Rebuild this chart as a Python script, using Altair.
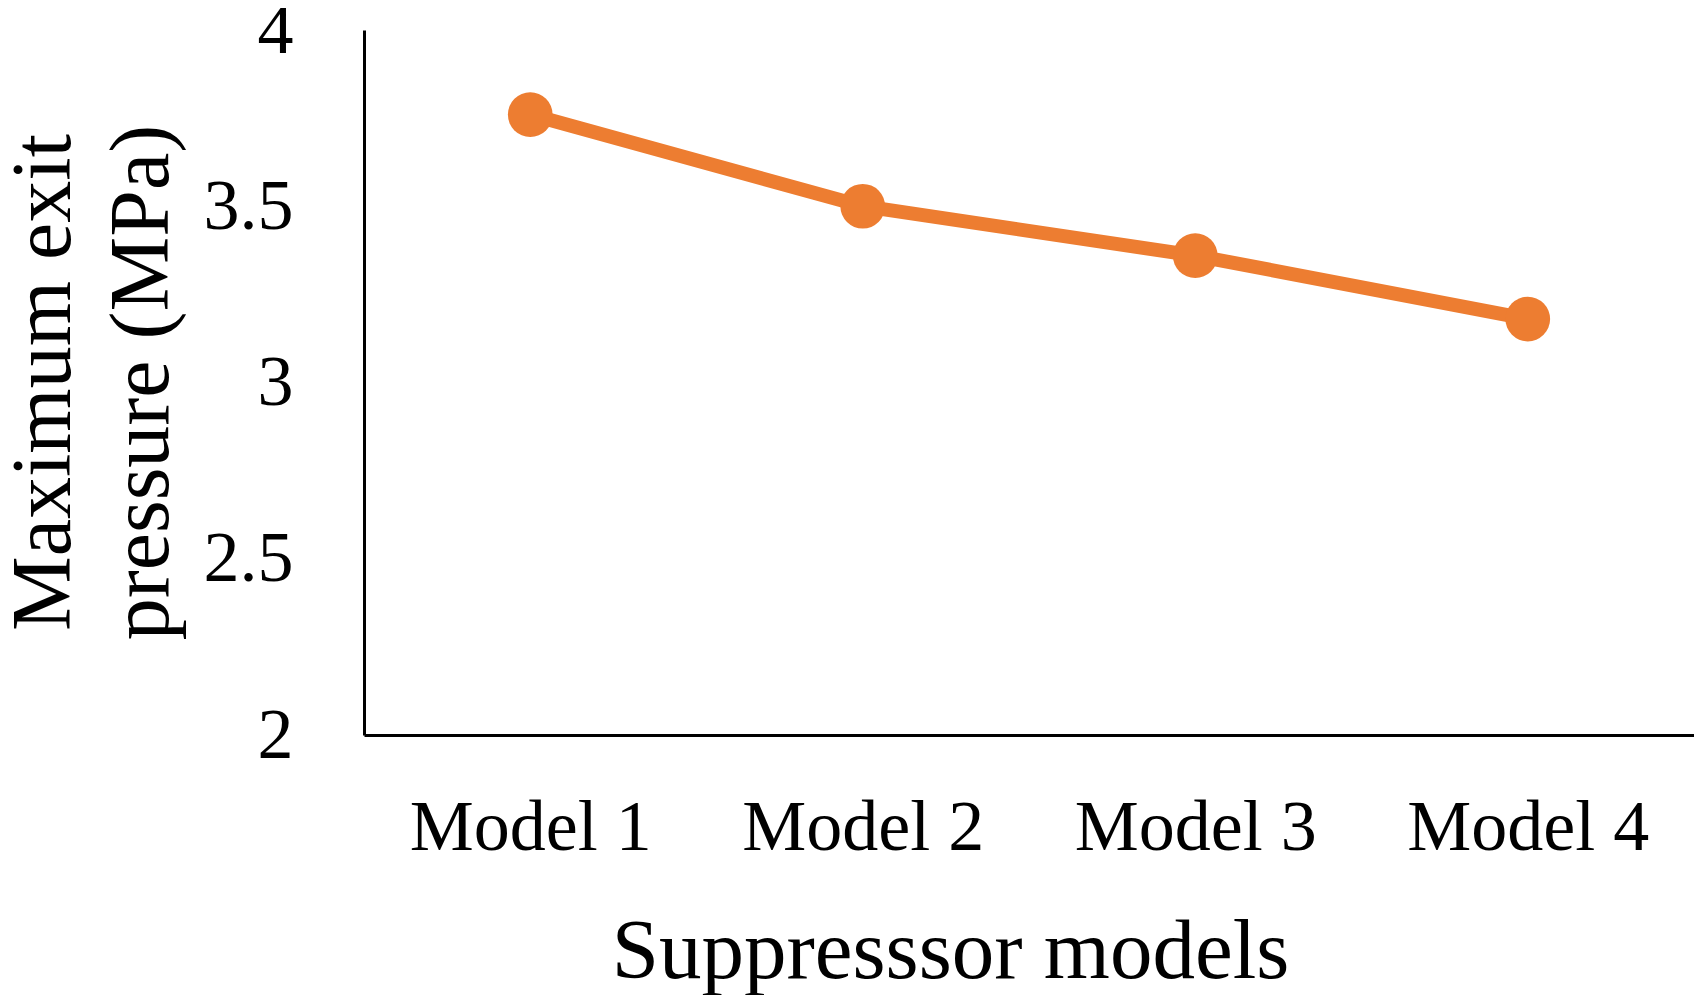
import altair as alt
import pandas as pd

models = ["Model 1", "Model 2", "Model 3", "Model 4"]
pressure = [3.76, 3.50, 3.36, 3.18]

df = pd.DataFrame({"model": models, "pressure": pressure})

FONT = "Liberation Serif"
ORANGE = "#ED7D31"

x = alt.X(
    "model:N",
    sort=models,
    scale=alt.Scale(type="point", padding=0.5),
    axis=alt.Axis(
        title="Suppresssor models",
        labelAngle=0,
        labelFont=FONT,
        labelFontSize=72,
        labelColor="black",
        labelBaseline="alphabetic",
        labelPadding=114,
        labelLimit=0,
        ticks=False,
        tickSize=0,
        domainColor="black",
        domainWidth=3,
        grid=False,
        titleFont=FONT,
        titleFontSize=85,
        titleFontWeight="normal",
        titleColor="black",
        titleBaseline="alphabetic",
        titleX=586,
        titleY=242,
    ),
)

y = alt.Y(
    "pressure:Q",
    scale=alt.Scale(domain=[2, 4], nice=False, zero=False),
    axis=alt.Axis(
        values=[2, 2.5, 3, 3.5, 4],
        format="~g",
        title=["Maximum exit", "pressure (MPa)"],
        labelFont=FONT,
        labelFontSize=72,
        labelColor="black",
        labelPadding=71,
        ticks=False,
        tickSize=0,
        domainColor="black",
        domainWidth=3,
        grid=False,
        titleFont=FONT,
        titleFontSize=84,
        titleFontWeight="normal",
        titleColor="black",
        titleAngle=-90,
        titleBaseline="alphabetic",
        titleAlign="center",
        titleLineHeight=98,
        titleX=-295,
        titleY=352,
    ),
)

base = alt.Chart(df).encode(x=x, y=y)
line = base.mark_line(color=ORANGE, strokeWidth=14)
points = base.mark_point(filled=True, color=ORANGE, opacity=1, size=2000)

chart = (
    alt.layer(line, points)
    .properties(
        width=1330,
        height=705,
        autosize=alt.AutoSizeParams(type="none"),
        padding={"left": 356, "top": 22, "right": 0, "bottom": 260},
        background="white",
    )
    .configure_view(stroke=None)
)

chart.save("out.html", embed_options={"renderer": "svg", "actions": False})
